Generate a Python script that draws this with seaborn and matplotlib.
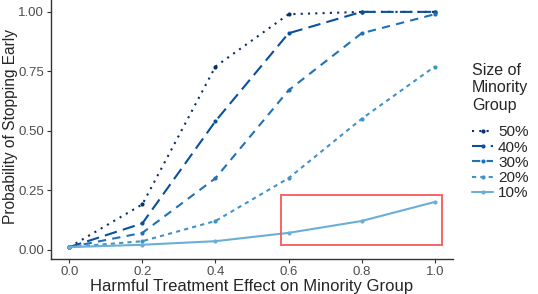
import pandas as pd
import matplotlib
matplotlib.use("Agg")
import matplotlib.pyplot as plt
from matplotlib.patches import Rectangle
import seaborn as sns

effect = [0.0, 0.2, 0.4, 0.6, 0.8, 1.0]
groups = ["50%", "40%", "30%", "20%", "10%"]
p50 = [0.01, 0.19, 0.77, 0.99, 1.00, 1.00]
p40 = [0.01, 0.11, 0.54, 0.91, 1.00, 1.00]
p30 = [0.01, 0.07, 0.30, 0.67, 0.91, 0.99]
p20 = [0.01, 0.035, 0.12, 0.30, 0.55, 0.77]
p10 = [0.01, 0.02, 0.035, 0.07, 0.12, 0.20]

rows = []
for g, vals in zip(groups, [p50, p40, p30, p20, p10]):
    for x, y in zip(effect, vals):
        rows.append({"effect": x, "prob": y, "group": g})
df = pd.DataFrame(rows)

sns.set_theme(style="white")
plt.rcParams["font.family"] = ["Liberation Sans", "DejaVu Sans"]

palette = {"50%": "#08306b", "40%": "#08519c", "30%": "#2171b5",
           "20%": "#4292c6", "10%": "#6baed6"}
dashes = {"50%": (1, 2.5), "40%": (6, 3), "30%": (4, 3),
          "20%": (2, 2), "10%": ""}

fig = plt.figure(figsize=(5.38, 2.94), dpi=100)
ax = fig.add_axes([51 / 538, 0.119, 402 / 538, 0.881])
sns.lineplot(data=df, x="effect", y="prob", hue="group", style="group",
             hue_order=groups, style_order=groups, palette=palette,
             dashes=dashes, markers={g: "o" for g in groups},
             markersize=3, markeredgewidth=0, linewidth=1.5, ax=ax)

# highlight box around the 10% curve
ax.add_patch(Rectangle((0.58, 0.021), 0.44, 0.207, fill=False,
                       edgecolor="#f8575a", linewidth=1.3, zorder=5))

ax.set_xlim(-0.05, 1.05)
ax.set_ylim(-0.04, 1.05)
ax.set_xticks([0.0, 0.2, 0.4, 0.6, 0.8, 1.0])
ax.set_xticklabels(["0.0", "0.2", "0.4", "0.6", "0.8", "1.0"])
ax.set_yticks([0.0, 0.25, 0.5, 0.75, 1.0])
ax.set_yticklabels(["0.00", "0.25", "0.50", "0.75", "1.00"])
ax.tick_params(axis="both", labelsize=9.5, labelcolor="#4d4d4d", length=3,
               width=0.8, color="#333333", bottom=True, left=True, pad=2)
ax.set_xlabel("Harmful Treatment Effect on Minority Group", fontsize=12, labelpad=1)
ax.set_ylabel("Probability of Stopping Early", fontsize=11.2)
ax.yaxis.set_label_coords(-0.081, 0.51)
for s in ["top", "right"]:
    ax.spines[s].set_visible(False)
for s in ["left", "bottom"]:
    ax.spines[s].set_color("#333333")
    ax.spines[s].set_linewidth(1.0)

leg = ax.legend(title="Size of\nMinority\nGroup", loc="upper left",
                bbox_to_anchor=(472 / 538, 1 - 63 / 294),
                bbox_transform=fig.transFigure, frameon=False, fontsize=11,
                title_fontsize=11.5, handlelength=1.4, labelspacing=0.08,
                handletextpad=0.3, borderpad=0, borderaxespad=0)
leg._legend_box.align = "left"
leg._legend_box.sep = 9
leg.get_title().set_linespacing(1.2)

fig.savefig("out.png", dpi=100)
